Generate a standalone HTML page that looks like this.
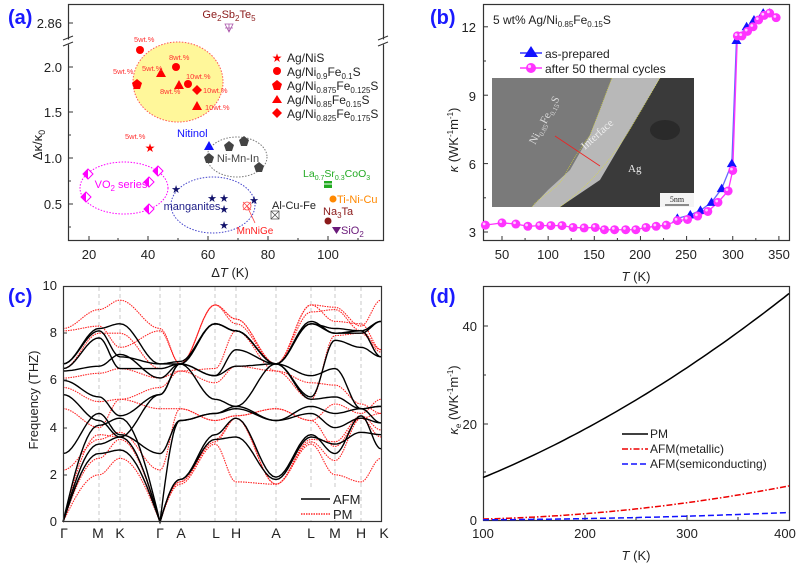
<!DOCTYPE html>
<html><head><meta charset="utf-8"><style>
html,body{margin:0;padding:0;background:#fff;}
svg{display:block;font-family:"Liberation Sans",sans-serif;}
</style></head><body>
<svg id="s" width="800" height="564" viewBox="0 0 800 564" xmlns="http://www.w3.org/2000/svg">
<rect width="800" height="564" fill="#fff"/>
<!-- ===== Panel (a) ===== -->
<text x="8" y="24" font-size="20" font-weight="bold" fill="#1a1aff">(a)</text>
<ellipse cx="178" cy="82" rx="45" ry="40" fill="#fff79a" stroke="#f55" stroke-width="1" stroke-dasharray="1.5,1.5"/>
<ellipse cx="237" cy="157" rx="30" ry="20" fill="none" stroke="#777" stroke-dasharray="1.5,1.5"/>
<ellipse cx="124" cy="188" rx="44" ry="26" fill="none" stroke="#f0f" stroke-dasharray="1.5,1.5"/>
<ellipse cx="213" cy="205" rx="42" ry="28" fill="none" stroke="#44c" stroke-dasharray="1.5,1.5"/>
<rect x="68.5" y="4.5" width="315" height="236" fill="none" stroke="#333" stroke-width="1.2"/>
<g stroke="#fff" stroke-width="5"><line x1="63" y1="42" x2="74" y2="42"/><line x1="378" y1="42" x2="389" y2="42"/></g>
<g stroke="#333" stroke-width="1"><line x1="63" y1="40" x2="73" y2="36"/><line x1="63" y1="46" x2="73" y2="42"/><line x1="378" y1="40" x2="388" y2="36"/><line x1="378" y1="46" x2="388" y2="42"/></g>
<g stroke="#333" stroke-width="1">
<line x1="68" y1="23" x2="73" y2="23"/><line x1="68" y1="67" x2="73" y2="67"/><line x1="68" y1="112" x2="73" y2="112"/><line x1="68" y1="158" x2="73" y2="158"/><line x1="68" y1="204" x2="73" y2="204"/>
<line x1="68" y1="89" x2="71" y2="89"/><line x1="68" y1="135" x2="71" y2="135"/><line x1="68" y1="181" x2="71" y2="181"/><line x1="68" y1="227" x2="71" y2="227"/>
<line x1="89" y1="241" x2="89" y2="236"/><line x1="148" y1="241" x2="148" y2="236"/><line x1="208" y1="241" x2="208" y2="236"/><line x1="268" y1="241" x2="268" y2="236"/><line x1="328" y1="241" x2="328" y2="236"/>
<line x1="118" y1="241" x2="118" y2="238"/><line x1="178" y1="241" x2="178" y2="238"/><line x1="238" y1="241" x2="238" y2="238"/><line x1="298" y1="241" x2="298" y2="238"/><line x1="358" y1="241" x2="358" y2="238"/>
</g>
<g font-size="13" fill="#222" text-anchor="end">
<text x="62" y="28">2.86</text><text x="62" y="72">2.0</text><text x="62" y="117">1.5</text><text x="62" y="163">1.0</text><text x="62" y="209">0.5</text></g>
<g font-size="13" fill="#222" text-anchor="middle">
<text x="89" y="259">20</text><text x="148" y="259">40</text><text x="208" y="259">60</text><text x="268" y="259">80</text><text x="328" y="259">100</text>
<text x="230" y="277">Δ<tspan font-style="italic">T</tspan> (K)</text></g>
<text transform="translate(42,145) rotate(-90)" font-size="13" text-anchor="middle" fill="#222">Δκ/κ<tspan font-size="9" dy="3">0</tspan></text>
<text x="229" y="18" font-size="11" fill="#8b1a1a" text-anchor="middle">Ge<tspan font-size="8" dy="3">2</tspan><tspan dy="-3">Sb</tspan><tspan font-size="8" dy="3">2</tspan><tspan dy="-3">Te</tspan><tspan font-size="8" dy="3">5</tspan></text>
<path d="M225,24 L233,24 L229,32 Z M229,24 V32 M225,28 H233" fill="none" stroke="#a5a" stroke-width="0.8"/>
<g fill="#f00">
<circle cx="140" cy="50" r="4"/><circle cx="176" cy="67" r="4"/><circle cx="188" cy="84" r="4"/>
<polygon points="137,79 142,83 140,89 134,89 132,83"/>
<polygon points="161,68 166,77 156,77"/><polygon points="179,80 184,89 174,89"/><polygon points="197,101 202,110 192,110"/>
<polygon points="197,85 202,90 197,95 192,90"/>
</g>
<g font-size="7.5" fill="#f33">
<text x="134" y="42">5wt.%</text><text x="169" y="60">8wt.%</text><text x="142" y="71">5wt.%</text><text x="113" y="74">5wt.%</text>
<text x="186" y="79">10wt.%</text><text x="160" y="94">8wt.%</text><text x="203" y="93">10wt.%</text><text x="205" y="110">10wt.%</text><text x="125" y="139">5wt.%</text></g>
<text x="150" y="152" font-size="12" fill="#f00" text-anchor="middle">★</text>
<!-- legend a -->
<g fill="#f00"><text x="277" y="62" font-size="12" text-anchor="middle">★</text><circle cx="277" cy="71" r="4"/>
<polygon points="277,80 282,84 280,90 274,90 272,84"/><polygon points="277,95 282,103 272,103"/><polygon points="277,108 282,113 277,118 272,113"/></g>
<g font-size="12" fill="#222">
<text x="287" y="62">Ag/NiS</text>
<text x="287" y="76">Ag/Ni<tspan font-size="8" dy="3">0.9</tspan><tspan dy="-3">Fe</tspan><tspan font-size="8" dy="3">0.1</tspan><tspan dy="-3">S</tspan></text>
<text x="287" y="90">Ag/Ni<tspan font-size="8" dy="3">0.875</tspan><tspan dy="-3">Fe</tspan><tspan font-size="8" dy="3">0.125</tspan><tspan dy="-3">S</tspan></text>
<text x="287" y="104">Ag/Ni<tspan font-size="8" dy="3">0.85</tspan><tspan dy="-3">Fe</tspan><tspan font-size="8" dy="3">0.15</tspan><tspan dy="-3">S</tspan></text>
<text x="287" y="118">Ag/Ni<tspan font-size="8" dy="3">0.825</tspan><tspan dy="-3">Fe</tspan><tspan font-size="8" dy="3">0.175</tspan><tspan dy="-3">S</tspan></text></g>
<text x="177" y="137" font-size="11" fill="#11f">Nitinol</text>
<polygon points="209,141 214,150 204,150" fill="#11f"/>
<g fill="#444"><polygon points="209,153 214,157 212,163 206,163 204,157"/><polygon points="229,141 234,145 232,151 226,151 224,145"/><polygon points="244,136 249,140 247,146 241,146 239,140"/><polygon points="259,162 264,166 262,172 256,172 254,166"/></g>
<text x="238" y="162" font-size="11" fill="#444" text-anchor="middle">Ni-Mn-In</text>
<text x="121" y="188" font-size="11" fill="#f0f" text-anchor="middle">VO<tspan font-size="8" dy="3">2</tspan><tspan dy="-3"> series</tspan></text>
<g stroke="#f0f" fill="#fff" stroke-width="1"><polygon points="88,169 93,174 88,179 83,174"/><polygon points="158,166 163,171 158,176 153,171"/><polygon points="149,177 154,182 149,187 144,182"/><polygon points="86,192 91,197 86,202 81,197"/><polygon points="149,204 154,209 149,214 144,209"/></g>
<g fill="#f0f"><path d="M88,169 L83,174 L88,179Z M158,166 L153,171 L158,176Z M149,177 L144,182 L149,187Z M86,192 L81,197 L86,202Z M149,204 L144,209 L149,214Z"/></g>
<text x="192" y="210" font-size="11" fill="#22228a" text-anchor="middle">manganites</text>
<g fill="#11116a" font-size="11" text-anchor="middle"><text x="176" y="193">★</text><text x="212" y="202">★</text><text x="224" y="202">★</text><text x="224" y="213">★</text><text x="224" y="229">★</text><text x="254" y="204">★</text></g>
<g stroke="#f44" fill="none" stroke-width="0.8"><circle cx="247" cy="206" r="4"/><path d="M243,202 L251,210 M251,202 L243,210 M247,206 L255,223"/></g>
<text x="255" y="234" font-size="10" fill="#f22" text-anchor="middle">MnNiGe</text>
<text x="272" y="209" font-size="11" fill="#222">Al-Cu-Fe</text>
<g stroke="#444" fill="none" stroke-width="0.7"><rect x="271" y="211" width="8" height="8"/><path d="M271,211 L279,219 M279,211 L271,219"/></g>
<text x="303" y="177" font-size="10.5" fill="#2a2">La<tspan font-size="7" dy="3">0.7</tspan><tspan dy="-3">Sr</tspan><tspan font-size="7" dy="3">0.3</tspan><tspan dy="-3">CoO</tspan><tspan font-size="7" dy="3">3</tspan></text>
<rect x="324" y="181" width="8" height="7" fill="#2a2"/><line x1="324" y1="184" x2="332" y2="184" stroke="#fff"/>
<circle cx="333" cy="199" r="3.5" fill="#f80"/><text x="337" y="203" font-size="11" fill="#f80">Ti-Ni-Cu</text>
<text x="323" y="215" font-size="11" fill="#8b1a1a">Na<tspan font-size="8" dy="3">3</tspan><tspan dy="-3">Ta</tspan></text>
<circle cx="328" cy="221" r="3.5" fill="#8b1a1a"/>
<polygon points="332,227 341,227 336.5,234" fill="#6a1a7a"/><text x="341" y="234" font-size="11" fill="#6a1a7a">SiO<tspan font-size="8" dy="3">2</tspan></text>

<!-- ===== Panel (b) ===== -->
<text x="430" y="24" font-size="20" font-weight="bold" fill="#1a1aff">(b)</text>
<rect x="483.5" y="4.5" width="306" height="236" fill="none" stroke="#333" stroke-width="1.2"/>
<g id="bt" stroke="#333"></g>
<g font-size="13" fill="#222" text-anchor="end"><text x="476" y="32">12</text><text x="476" y="101">9</text><text x="476" y="169">6</text><text x="476" y="237">3</text></g>
<g font-size="13" fill="#222" text-anchor="middle"><text x="502" y="259">50</text><text x="548" y="259">100</text><text x="594" y="259">150</text><text x="640" y="259">200</text><text x="686" y="259">250</text><text x="733" y="259">300</text><text x="779" y="259">350</text>
<text x="636" y="281"><tspan font-style="italic">T</tspan> (K)</text></g>
<text transform="translate(458,140) rotate(-90)" font-size="13" text-anchor="middle" fill="#222"><tspan font-style="italic">κ</tspan> (WK<tspan font-size="8" dy="-5">-1</tspan><tspan dy="5">m</tspan><tspan font-size="8" dy="-5">-1</tspan><tspan dy="5">)</tspan></text>
<text x="493" y="24" font-size="12" fill="#222">5 wt% Ag/Ni<tspan font-size="8" dy="3">0.85</tspan><tspan dy="-3">Fe</tspan><tspan font-size="8" dy="3">0.15</tspan><tspan dy="-3">S</tspan></text>
<!-- inset -->
<g>
<rect x="492" y="78" width="202" height="129" fill="#7a7a7a"/>
<polygon points="612,78 660,78 600,180 560,207 532,207 548,190 570,170 590,135 600,110" fill="#b8b8b8"/>
<polygon points="660,78 694,78 694,207 560,207 600,180" fill="#3a3a3a"/>
<ellipse cx="665" cy="130" rx="15" ry="10" fill="#2a2a2a"/>
<path d="M612,78 C605,95 600,110 590,135 C580,150 572,160 565,175 C558,190 540,195 532,207" stroke="#dd3" stroke-width="0.6" fill="none" stroke-dasharray="1,1"/>
<path d="M660,78 C630,130 610,170 560,207" stroke="#dd3" stroke-width="0.6" fill="none" stroke-dasharray="1,1"/>
<line x1="555" y1="136" x2="600" y2="166" stroke="#e22" stroke-width="0.8"/>
<text transform="translate(535,145) rotate(-62)" font-family="Liberation Serif,serif" font-size="11" fill="#ddd">Ni<tspan font-size="7" dy="3">0.85</tspan><tspan dy="-3">Fe</tspan><tspan font-size="7" dy="3">0.15</tspan><tspan dy="-3">S</tspan></text>
<text transform="translate(585,150) rotate(-42)" font-family="Liberation Serif,serif" font-size="11" fill="#eee">Interface</text>
<text x="628" y="172" font-family="Liberation Serif,serif" font-size="11" fill="#eee">Ag</text>
<rect x="660" y="193" width="34" height="14" fill="#f4f4f4"/>
<text x="677" y="202" font-family="Liberation Serif,serif" font-size="8" fill="#222" text-anchor="middle">5nm</text>
<line x1="665" y1="205" x2="689" y2="205" stroke="#222"/>
</g>
<g id="bser"></g>
<line x1="520" y1="53" x2="542" y2="53" stroke="#33f" stroke-width="1.5"/><polygon points="531,46 538,57 524,57" fill="#11f"/>
<line x1="520" y1="68" x2="542" y2="68" stroke="#f3f" stroke-width="1.5"/><circle cx="531" cy="68" r="5" fill="#f3f"/><circle cx="529.5" cy="66.5" r="1.6" fill="#fcf"/>
<text x="545" y="58" font-size="12" fill="#222">as-prepared</text>
<text x="545" y="73" font-size="12" fill="#222">after 50 thermal cycles</text>

<!-- ===== Panel (c) ===== -->
<text x="8" y="303" font-size="20" font-weight="bold" fill="#1a1aff">(c)</text>
<g id="cv" stroke="#bbb" stroke-dasharray="4,3" stroke-width="0.8"></g>
<g id="cb" fill="none"></g>
<rect x="63.5" y="286.5" width="318" height="235" fill="none" stroke="#333" stroke-width="1.2"/>
<g font-size="13" fill="#222" text-anchor="end"><text x="57" y="290">10</text><text x="57" y="337">8</text><text x="57" y="384">6</text><text x="57" y="432">4</text><text x="57" y="479">2</text><text x="57" y="526">0</text></g>
<g stroke="#333"><line x1="63" y1="333" x2="67" y2="333"/><line x1="63" y1="380" x2="67" y2="380"/><line x1="63" y1="428" x2="67" y2="428"/><line x1="63" y1="475" x2="67" y2="475"/></g>
<g font-size="14" fill="#222" text-anchor="middle"><text x="64" y="538">Γ</text><text x="98" y="538">M</text><text x="120" y="538">K</text><text x="160" y="538">Γ</text><text x="181" y="538">A</text><text x="216" y="538">L</text><text x="236" y="538">H</text><text x="276" y="538">A</text><text x="311" y="538">L</text><text x="335" y="538">M</text><text x="361" y="538">H</text><text x="384" y="538">K</text></g>
<text transform="translate(38,400) rotate(-90)" font-size="13" text-anchor="middle" fill="#222">Frequency (THZ)</text>
<rect x="298" y="490" width="60" height="30" fill="#fff"/>
<line x1="301" y1="499" x2="330" y2="499" stroke="#000" stroke-width="1.5"/>
<line x1="301" y1="514" x2="330" y2="514" stroke="#f00" stroke-width="1.2" stroke-dasharray="1.5,1"/>
<text x="333" y="504" font-size="13" fill="#222">AFM</text><text x="333" y="519" font-size="13" fill="#222">PM</text>

<!-- ===== Panel (d) ===== -->
<text x="430" y="303" font-size="20" font-weight="bold" fill="#1a1aff">(d)</text>
<rect x="483.5" y="286.5" width="306" height="234" fill="none" stroke="#333" stroke-width="1.2"/>
<g stroke="#333"><line x1="483" y1="326" x2="488" y2="326"/><line x1="483" y1="424" x2="488" y2="424"/><line x1="483" y1="375" x2="486" y2="375"/><line x1="483" y1="472" x2="486" y2="472"/>
<line x1="585" y1="520" x2="585" y2="515"/><line x1="687" y1="520" x2="687" y2="515"/><line x1="534" y1="520" x2="534" y2="517"/><line x1="636" y1="520" x2="636" y2="517"/><line x1="738" y1="520" x2="738" y2="517"/></g>
<g font-size="13" fill="#222" text-anchor="end"><text x="477" y="331">40</text><text x="477" y="429">20</text><text x="477" y="525">0</text></g>
<g font-size="13" fill="#222" text-anchor="middle"><text x="483" y="538">100</text><text x="585" y="538">200</text><text x="687" y="538">300</text><text x="785" y="538">400</text>
<text x="636" y="560"><tspan font-style="italic">T</tspan> (K)</text></g>
<text transform="translate(458,400) rotate(-90)" font-size="13" text-anchor="middle" fill="#222"><tspan font-style="italic">κ</tspan><tspan font-size="8" dy="3">e</tspan><tspan dy="-3"> (WK</tspan><tspan font-size="8" dy="-5">-1</tspan><tspan dy="5">m</tspan><tspan font-size="8" dy="-5">-1</tspan><tspan dy="5">)</tspan></text>
<g id="dser" fill="none"></g>
<line x1="622" y1="434" x2="648" y2="434" stroke="#000" stroke-width="1.5"/>
<line x1="622" y1="449" x2="648" y2="449" stroke="#e00" stroke-width="1.5" stroke-dasharray="6,2,1.5,2"/>
<line x1="622" y1="464" x2="648" y2="464" stroke="#11f" stroke-width="1.5" stroke-dasharray="6,3"/>
<g font-size="12" fill="#222"><text x="650" y="438">PM</text><text x="650" y="453">AFM(metallic)</text><text x="650" y="468">AFM(semiconducting)</text></g>
</svg>
<script>
var NS="http://www.w3.org/2000/svg";
function el(p,t,a){var e=document.createElementNS(NS,t);for(var k in a)e.setAttribute(k,a[k]);p.appendChild(e);return e;}
// panel b
var bx=function(T){return 502+(T-50)*0.923},by=function(k){return 232-(k-3)*22.8};
var bt=document.getElementById('bt');
[50,100,150,200,250,300,350].forEach(function(T){el(bt,'line',{x1:bx(T),y1:241,x2:bx(T),y2:236});});
[75,125,175,225,275,325].forEach(function(T){el(bt,'line',{x1:bx(T),y1:241,x2:bx(T),y2:238});});
[3,6,9,12].forEach(function(k){el(bt,'line',{x1:483,y1:by(k),x2:488,y2:by(k)});});
[4.5,7.5,10.5].forEach(function(k){el(bt,'line',{x1:483,y1:by(k),x2:486,y2:by(k)});});
var C=[[32,3.3],[50,3.4],[65,3.35],[78,3.25],[91,3.28],[103,3.28],[115,3.28],[127,3.2],[139,3.18],[151,3.2],[161,3.1],[172,3.1],[184,3.1],[195,3.1],[206,3.2],[217,3.25],[228,3.3],[240,3.5],[251,3.55],[262,3.7],[273,3.9],[284,4.3],[295,4.8],[300,5.7],[305,11.6],[310,11.6],[316,11.8],[322,12.0],[328,12.3],[334,12.5],[340,12.6],[347,12.4]];
var Tr=[[240,3.6],[254,3.75],[265,3.95],[277,4.3],[288,4.9],[299,6.0],[304,11.4],[315,12.0],[323,12.3],[333,12.6],[340,12.6]];
var bs=document.getElementById('bser');
el(bs,'polyline',{points:Tr.map(function(p){return bx(p[0])+','+by(p[1])}).join(' '),fill:'none',stroke:'#66f','stroke-width':1.3});
el(bs,'polyline',{points:C.map(function(p){return bx(p[0])+','+by(p[1])}).join(' '),fill:'none',stroke:'#f3f','stroke-width':1.3});
Tr.forEach(function(p){var x=bx(p[0]),y=by(p[1]);el(bs,'polygon',{points:x+','+(y-5)+' '+(x+5)+','+(y+3.5)+' '+(x-5)+','+(y+3.5),fill:'#11f'});});
C.forEach(function(p){var x=bx(p[0]),y=by(p[1]);el(bs,'circle',{cx:x,cy:y,r:4.5,fill:'#f3f'});el(bs,'circle',{cx:x-1.3,cy:y-1.3,r:1.4,fill:'#fcf'});});
// panel c
var nodes=[63,99,120,160,180,215,236,276,311,335,361,381];
var cv=document.getElementById('cv');
nodes.slice(1,-1).forEach(function(x){el(cv,'line',{x1:x,y1:287,x2:x,y2:521});});
var cy=function(f){return 522-f*23.6};
var BL=[[0,2.9,3.05,0,1.8,3.5,3.6,1.8,3.6,3.3,3.8,3.7],[0,3.3,3.6,0,1.8,3.7,4.4,1.9,3.7,2.9,4.5,3.1],[0,4.1,4.4,0,4.3,4.6,4.8,4.3,4.6,4.0,4.4,4.2],[2.9,4.6,3.7,2.9,4.3,4.6,4.9,4.3,4.9,4.6,4.8,4.9],[5.4,4.3,3.6,5.4,6.7,5.2,4.9,6.7,5.2,5.3,4.8,4.9],[6.0,5.3,4.5,5.4,6.7,6.2,6.6,6.7,6.2,6.5,4.8,4.2],[6.4,6.6,7.1,6.1,6.7,6.2,7.3,6.7,5.3,7.7,7.4,7.0],[6.5,7.8,6.5,6.5,6.7,8.4,8.1,6.7,8.4,8.2,8.1,7.0],[6.7,8.1,7.0,6.7,6.7,8.4,8.1,6.7,8.5,8.0,8.1,8.5],[6.7,8.2,8.4,6.7,6.8,8.4,8.1,6.7,8.4,8.0,8.0,8.5]];
var RD=[[0,2.0,2.7,0,1.6,3.3,1.7,1.6,3.3,2.0,1.7,2.7],[0,2.7,3.5,0,1.7,3.4,4.4,1.6,3.4,2.6,4.4,3.6],[0,3.7,3.6,0,1.7,3.5,4.4,1.6,3.5,3.4,4.5,3.9],[2.2,3.5,3.8,2.2,4.8,4.3,4.5,4.8,4.3,3.2,4.4,4.6],[4.8,4.0,5.2,4.8,4.8,4.3,4.5,4.8,4.3,5.0,4.6,5.2],[5.7,5.1,5.2,5.7,6.4,5.9,6.6,6.4,5.9,5.8,5.0,4.6],[6.1,6.3,6.5,6.1,6.4,6.5,8.1,6.4,5.2,7.9,8.0,7.2],[6.5,8.0,8.0,6.5,6.7,9.2,8.6,6.7,9.2,8.5,8.4,7.3],[8.2,9.0,9.4,8.2,6.7,9.2,8.4,6.7,9.2,9.1,8.3,9.4],[8.1,8.3,7.4,8.1,6.7,9.2,8.6,6.7,8.9,9.0,8.1,7.3]];
function band(v){var d='';for(var i=0;i<nodes.length-1;i++){var x0=nodes[i],x1=nodes[i+1],a=v[i],b=v[i+1];var ac=(a==0),bc=(b==0);
 for(var s=0;s<=12;s++){var t=s/12,u;if(ac&&bc)u=t;else if(ac)u=Math.sin(t*Math.PI/2);else if(bc)u=1-Math.cos(t*Math.PI/2);else u=(1-Math.cos(t*Math.PI))/2;
 if(ac&&!bc)u=Math.sin(t*Math.PI/2);if(bc&&!ac)u=1-Math.cos(t*Math.PI/2)*1;
 var f=a+(b-a)*u;if(bc&&!ac){f=b+(a-b)*Math.sin((1-t)*Math.PI/2);}
 d+=(d?'L':'M')+(x0+(x1-x0)*t).toFixed(1)+','+cy(f).toFixed(1);}}return d;}
var cb=document.getElementById('cb');
RD.forEach(function(v){el(cb,'path',{d:band(v),stroke:'#f22','stroke-width':1.1,'stroke-dasharray':'1.5,1'});});
BL.forEach(function(v){el(cb,'path',{d:band(v),stroke:'#000','stroke-width':1.4});});
// panel d
var dx=function(T){return 483+(T-100)*1.02},dy=function(k){return 520-k*4.87};
var ds=document.getElementById('dser');
function curve(fn,attrs){var p=[];for(var T=100;T<=400;T+=5)p.push(dx(T).toFixed(1)+','+dy(fn(T)).toFixed(1));attrs.points=p.join(' ');el(ds,'polyline',attrs);}
curve(function(T){var t=(T-100)/300;return 8.7+26*t+11.8*t*t;},{stroke:'#000','stroke-width':1.5});
curve(function(T){var t=(T-100)/300;return 0.2+1.5*t+5.3*t*t;},{stroke:'#e00','stroke-width':1.5,'stroke-dasharray':'6,2,1.5,2'});
curve(function(T){var t=(T-100)/300;return 0.05+0.3*t+1.2*t*t;},{stroke:'#11f','stroke-width':1.5,'stroke-dasharray':'6,3'});
</script>
</body></html>
